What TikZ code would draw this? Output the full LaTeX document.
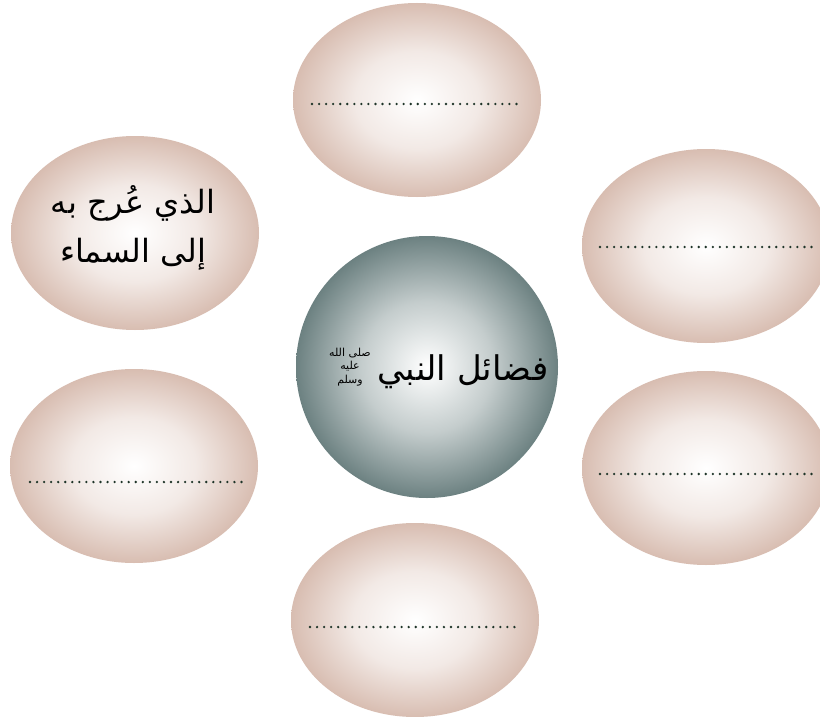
\documentclass[tikz,border=0pt]{standalone}
\usepackage{fontspec}
\usetikzlibrary{shapes.geometric}
\newfontfamily\arabicfont[Script=Arabic]{DejaVu Sans}
\TeXXeTstate=1
\definecolor{bubedge}{RGB}{216,189,177}
\definecolor{hubedge}{RGB}{108,129,129}
\definecolor{dotcol}{RGB}{30,52,40}
\pgfdeclareradialshading{bubshade}{\pgfpoint{0bp}{0bp}}{color(0bp)=(white); color(12.5bp)=(bubedge!33!white); color(25bp)=(bubedge); color(50bp)=(bubedge)}
\pgfdeclareradialshading{hubshade}{\pgfpoint{0bp}{0bp}}{color(0bp)=(white); color(12.5bp)=(hubedge!40!white); color(25bp)=(hubedge); color(50bp)=(hubedge)}
\tikzset{
  bub/.style={ellipse, inner sep=0pt, minimum width=248pt, minimum height=194pt,
    shading=bubshade, draw=none},
  hubstyle/.style={circle, inner sep=0pt, minimum size=262pt,
    shading=hubshade, draw=none},
  answerline/.style={draw=dotcol, line width=2.6pt, line cap=round, dash pattern=on 0pt off 7.05pt},
  artext/.style={font=\arabicfont, text=black, align=center, inner sep=0pt}
}
\begin{document}
\begin{tikzpicture}[x=1pt,y=-1pt]
\useasboundingbox (0,0) rectangle (820,717);
\clip (0,0) rectangle (820,717);
\fill[white] (0,0) rectangle (820,717);
\node[hubstyle] (hub) at (427,367) {};
\node[bub] (top) at (417,100) {};
\node[bub] (ur) at (706,246) {};
\node[bub] (lr) at (706,468) {};
\node[bub] (bot) at (415,620) {};
\node[bub] (ul) at (135,233) {};
\node[bub] (ll) at (134,466) {};
\node[artext, font=\arabicfont\fontsize{34}{40}\selectfont] (hubtext) at (463,372) {\beginR فضائل النبي\endR};
\node[artext, font=\arabicfont\fontsize{11}{13.5}\selectfont] (saw) at (350,367) {\beginR صلى الله\endR\\\beginR عليه\endR\\\beginR وسلم\endR};
\node[artext, font=\arabicfont\fontsize{32}{49}\selectfont] (ultext) at (133,228) {\beginR الذي عُرج به\endR\\\beginR إلى السماء\endR};
\draw[answerline] ([xshift=-105pt,yshift=-4pt]top.center) -- ([xshift=106pt,yshift=-4pt]top.center);
\draw[answerline] ([xshift=-106pt,yshift=-1pt]ur.center) -- ([xshift=106pt,yshift=-1pt]ur.center);
\draw[answerline] ([xshift=-106pt,yshift=-6pt]lr.center) -- ([xshift=106pt,yshift=-6pt]lr.center);
\draw[answerline] ([xshift=-105pt,yshift=-7pt]bot.center) -- ([xshift=106pt,yshift=-7pt]bot.center);
\draw[answerline] ([xshift=-104pt,yshift=-16pt]ll.center) -- ([xshift=108pt,yshift=-16pt]ll.center);
\end{tikzpicture}
\end{document}
